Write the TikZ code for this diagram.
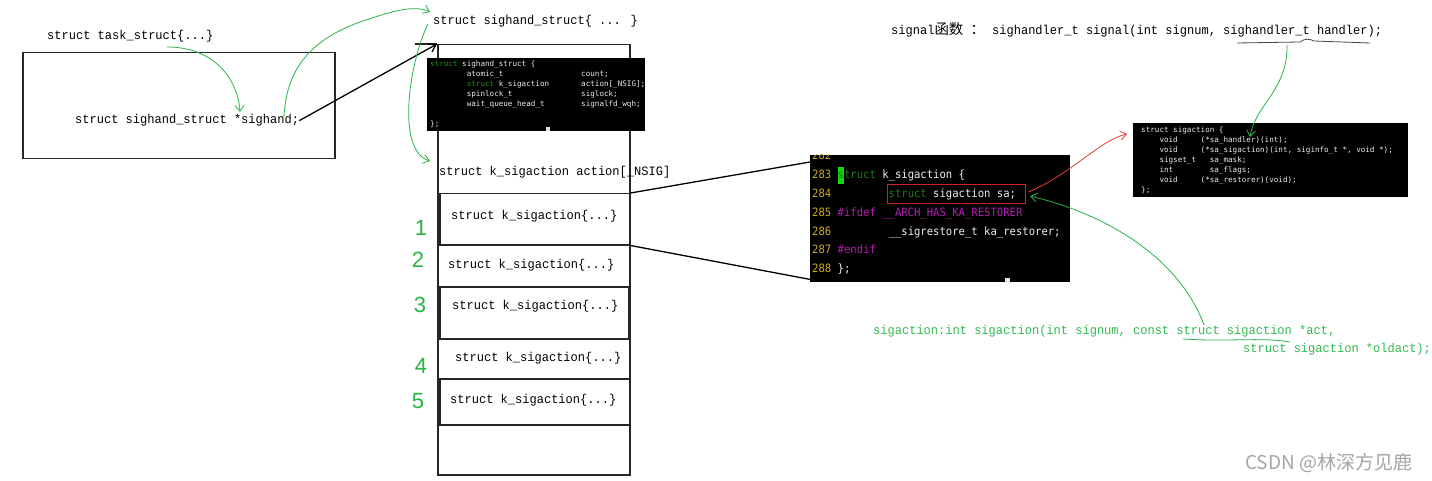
\documentclass[tikz,border=0pt]{standalone}
\usepackage{fontspec}
\setmainfont{Liberation Mono}
\newfontfamily\simfont[FakeStretch=0.94]{Liberation Mono}
\newfontfamily\codefont{DejaVu Sans Mono}
\newfontfamily\codefontB[FakeStretch=0.92]{DejaVu Sans Mono}
\newfontfamily\cjk{Noto Sans CJK SC}
\newfontfamily\handfont{Liberation Sans}
\usetikzlibrary{arrows.meta}
\definecolor{hand}{RGB}{40,180,70}
\definecolor{handtxt}{RGB}{50,185,80}
\definecolor{cgreen}{RGB}{30,125,30}
\definecolor{cgreenA}{RGB}{25,150,25}
\definecolor{cnum}{RGB}{205,170,40}
\definecolor{cmag}{RGB}{175,30,175}
\definecolor{cwhite}{RGB}{238,238,238}
\definecolor{hl}{RGB}{20,215,20}
\definecolor{redbox}{RGB}{205,35,35}
\definecolor{redarrow}{RGB}{235,60,60}
\definecolor{wm}{RGB}{165,165,165}
\definecolor{ulgray}{RGB}{70,70,70}
\newcommand\csp[1]{\hspace*{#1\fontcharwd\font`x}}
\newcommand\zh[1]{{\cjk\fontsize{14.4}{16}\selectfont #1}}
\tikzset{
  txt/.style={font=\simfont\fontsize{12.8}{14}\selectfont, anchor=base west, inner sep=0pt},
  gtxt/.style={txt, text=handtxt},
  cA/.style={font=\codefont\fontsize{7.6}{10}\selectfont, text=cwhite, anchor=base west, inner sep=0pt},
  cB/.style={font=\codefontB\fontsize{11.5}{18}\selectfont, text=cwhite, anchor=base west, inner sep=0pt},
  frame/.style={draw=black!85, line width=1.5pt, anchor=north west, inner sep=0pt},
  codebg/.style={fill=black, anchor=north west, inner sep=0pt},
  handline/.style={draw=hand, line width=0.8pt},
  harrow/.style={handline, -{Straight Barb[length=6pt,width=9pt]}},
  digit/.style={font=\handfont\fontsize{22}{22}\selectfont, text=hand, inner sep=0pt},
}
\begin{document}
\begin{tikzpicture}[x=1pt,y=-1pt]
\useasboundingbox[fill=white] (0,0) rectangle (1432,481);

% task_struct
\node[frame, minimum width=312pt, minimum height=106pt] (taskbox) at (22,52) {};
\node[txt] (task) at (47,40) {struct task\_struct\{...\}};
\node[txt] (ptr) at (75,124) {struct sighand\_struct *sighand;};

% sighand_struct column
\node[frame, minimum width=192pt, minimum height=430pt] (tall) at (437,44) {};
\coordinate (tick) at (415,44);
\draw[black!85, line width=1.5pt] (tick) -- (tall.north west);
\node[txt] (shtitle) at (433,25) {struct sighand\_struct\{ ... \}};

\node[codebg, minimum width=218pt, minimum height=73pt] (code1) at (427,58) {};
\node[cA] (s1) at (430,67) {\textcolor{cgreenA}{struct} sighand\_struct \{};
\node[cA] (s2) at (430,77) {\csp{8}atomic\_t\csp{17}count;};
\node[cA] (s3) at (430,87) {\csp{8}\textcolor{cgreenA}{struct} k\_sigaction\csp{7}action[\_NSIG];};
\node[cA] (s4) at (430,97) {\csp{8}spinlock\_t\csp{15}siglock;};
\node[cA] (s5) at (430,107) {\csp{8}wait\_queue\_head\_t\csp{8}signalfd\_wqh;};
\node[cA] (s6) at (430,127) {\};};
\node[fill=black!12, minimum width=4pt, minimum height=4pt, inner sep=0pt, anchor=south west] (cur1) at (546,131) {};

\node[txt] (action) at (439,176) {struct k\_sigaction action[\_NSIG]};
\node[frame, minimum width=190pt, minimum height=51pt] (k1box) at (439,193) {};
\node[txt] (k1) at (451,220) {struct k\_sigaction\{...\}};
\node[txt] (k2) at (448,268) {struct k\_sigaction\{...\}};
\node[frame, minimum width=189pt, minimum height=52pt] (k3box) at (439,286) {};
\node[txt] (k3) at (452,309) {struct k\_sigaction\{...\}};
\node[txt] (k4) at (455,361) {struct k\_sigaction\{...\}};
\node[frame, minimum width=190pt, minimum height=46pt] (k5box) at (439,378) {};
\node[txt] (k5) at (450,403) {struct k\_sigaction\{...\}};

\node[digit] (n1) at (421,228) {1};
\node[digit] (n2) at (418,260) {2};
\node[digit] (n3) at (420,305) {3};
\node[digit] (n4) at (421,366) {4};
\node[digit] (n5) at (418,401) {5};

% k_sigaction code
\node[codebg, minimum width=260pt, minimum height=127pt] (code2) at (810,155) {};
\begin{scope}
\clip (code2.north west) rectangle (code2.south east);
\node[cB] (l282) at (812,160) {\textcolor{cnum}{282}};
\end{scope}
\node[fill=hl, anchor=north west, minimum width=6.4pt, minimum height=17pt, inner sep=0pt] (hlbox) at (837.5,167) {};
\node[cB] (l283) at (812,179) {\textcolor{cnum}{283}\csp{1}\textcolor{cgreen}{struct} k\_sigaction \{};
\node[cB] (l284) at (812,198) {\textcolor{cnum}{284}\csp{9}\textcolor{cgreen}{struct} sigaction sa;};
\node[cB] (l285) at (812,217) {\textcolor{cnum}{285}\csp{1}\textcolor{cmag}{\#ifdef \_\_ARCH\_HAS\_KA\_RESTORER}};
\node[cB] (l286) at (812,235.5) {\textcolor{cnum}{286}\csp{9}\_\_sigrestore\_t ka\_restorer;};
\node[cB] (l287) at (812,254) {\textcolor{cnum}{287}\csp{1}\textcolor{cmag}{\#endif}};
\node[cB] (l288) at (812,272.5) {\textcolor{cnum}{288}\csp{1}\};};
\node[fill=black!10, minimum width=5pt, minimum height=4pt, inner sep=0pt, anchor=south west] (cur2) at (1005,282) {};
\node[draw=redbox, line width=1.2pt, anchor=north west, minimum width=138pt, minimum height=19pt, inner sep=0pt] (sabox) at (887,184) {};

% sigaction code
\node[codebg, minimum width=275pt, minimum height=74pt] (code3) at (1133,123) {};
\node[cA] (g1) at (1141,133) {struct sigaction \{};
\node[cA] (g2) at (1141,143) {\csp{4}void\csp{5}(*sa\_handler)(int);};
\node[cA] (g3) at (1141,153) {\csp{4}void\csp{5}(*sa\_sigaction)(int, siginfo\_t *, void *);};
\node[cA] (g4) at (1141,163) {\csp{4}sigset\_t\csp{3}sa\_mask;};
\node[cA] (g5) at (1141,173) {\csp{4}int\csp{8}sa\_flags;};
\node[cA] (g6) at (1141,183) {\csp{4}void\csp{5}(*sa\_restorer)(void);};
\node[cA] (g7) at (1141,193) {\};};

% texts right
\node[txt] (signal) at (891,35) {signal\zh{函数} \zh{：} sighandler\_t signal(int signum, sighandler\_t handler);};
\node[gtxt] (sa1) at (873,334) {sigaction:int sigaction(int signum, const struct sigaction *act,};
\node[gtxt] (sa2) at (1243,352) {struct sigaction *oldact);};
\node[font=\cjk\fontsize{19}{21}\selectfont, text=wm, anchor=base west, inner sep=0pt] (wmark) at (1245,469) {CSDN @林深方见鹿};

% black connectors
\draw[black, line width=1.3pt, -{Straight Barb[length=7pt,width=9pt]}] (ptr.east) -- (tall.north west);
\draw[black, line width=1.3pt] (k1box.north east) -- ([yshift=-7pt]code2.north west);
\draw[black, line width=1.3pt] (k1box.south east) -- ([yshift=3pt]code2.south west);

% hand-drawn annotations
\coordinate (taskc) at (167,47);
\coordinate (ptrc) at (284,117);
\coordinate (titlec) at (428,24);
\coordinate (actionc) at (430,161);
\coordinate (topc) at (430,12);
\coordinate (handlerc) at (1287,45);
\coordinate (sahc) at (1250,137);
\coordinate (actc) at (1204,325);
\coordinate (code3c) at (1127,134);
\draw[harrow] (taskc) .. controls (215,47) and (238,80) .. (240,112);
\draw[harrow] (ptrc) .. controls (286,70) and (310,40) .. (360,22) .. controls (395,10) and (415,5) .. (topc);
\draw[harrow] (titlec) .. controls (410,60) and (395,150) .. (actionc);
\draw[harrow] (handlerc) .. controls (1288,90) and (1255,105) .. (sahc);
\draw[redarrow, line width=0.8pt, -{Straight Barb[length=6pt,width=9pt]}] ([xshift=2pt,yshift=2pt]sabox.east) .. controls (1070,175) and (1100,140) .. (code3c);
\draw[harrow] (actc) .. controls (1180,260) and (1110,215) .. ([xshift=4pt,yshift=-2pt]sabox.east);
\draw[handline] (1183,339) .. controls (1230,342) and (1260,337) .. (1290,342);
\draw[ulgray, line width=0.8pt] (1237,43) -- (1300,42) .. controls (1305,38) and (1310,39) .. (1314,41) -- (1370,43);
\end{tikzpicture}
\end{document}
